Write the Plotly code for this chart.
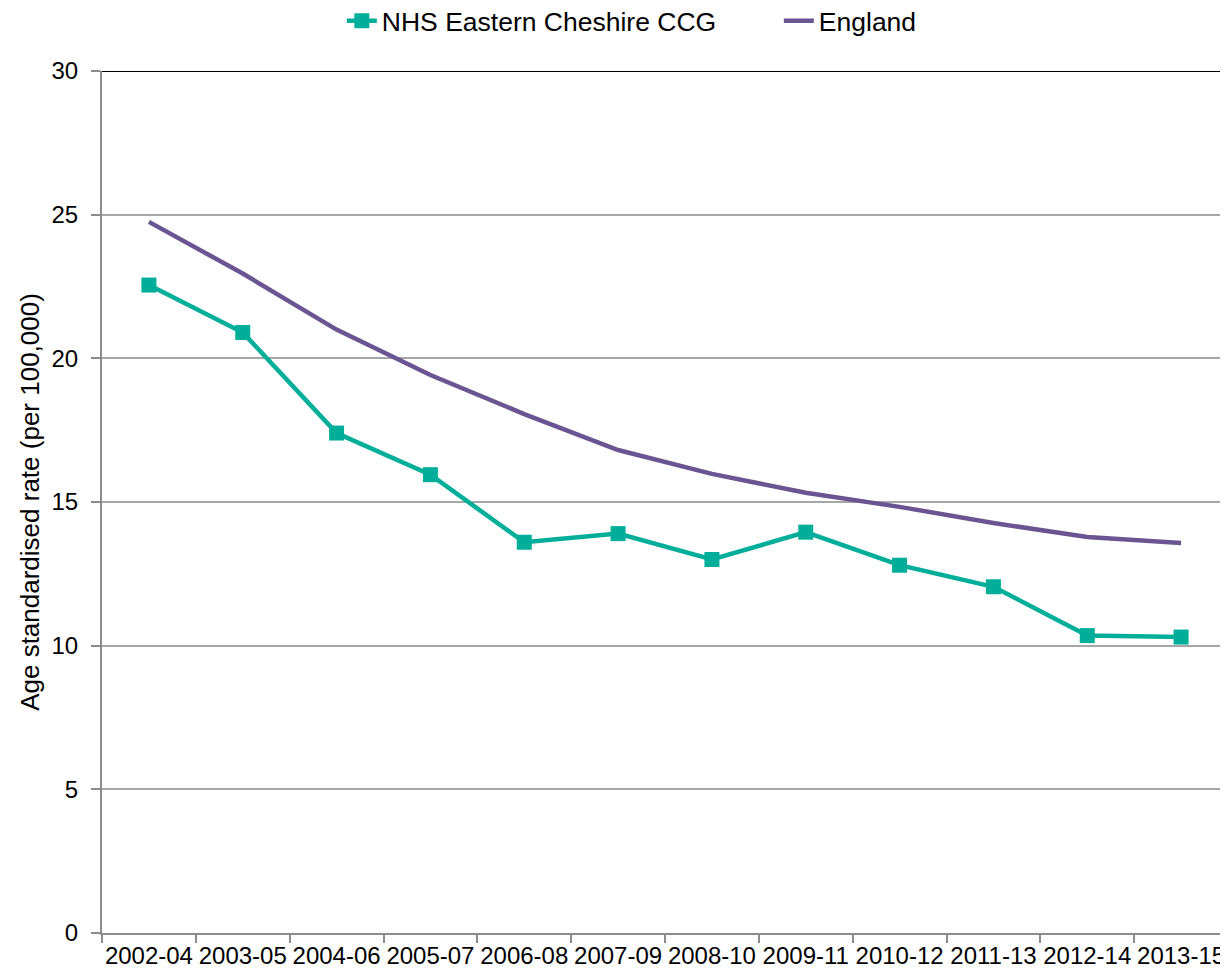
import plotly.graph_objects as go

periods = ["2002-04", "2003-05", "2004-06", "2005-07", "2006-08", "2007-09",
           "2008-10", "2009-11", "2010-12", "2011-13", "2012-14", "2013-15"]
ccg = [22.55, 20.9, 17.4, 15.95, 13.6, 13.9, 13.0, 13.95, 12.8, 12.05, 10.35, 10.3]
england = [24.75, 22.95, 21.0, 19.42, 18.06, 16.81, 15.98, 15.32, 14.83, 14.27, 13.78, 13.57]

teal = "#00AE9A"
purple = "#6A5592"

fig = go.Figure()
fig.add_trace(go.Scatter(
    x=periods, y=ccg, name="NHS Eastern Cheshire CCG",
    mode="lines+markers",
    line=dict(color=teal, width=4.5),
    marker=dict(symbol="square", size=15, color=teal)
))
fig.add_trace(go.Scatter(
    x=periods, y=england, name="England",
    mode="lines",
    line=dict(color=purple, width=4.5)
))

# black line along the top (30)
fig.add_shape(type="line", xref="paper", yref="y", x0=0, x1=1, y0=30, y1=30,
              line=dict(color="black", width=2))

fig.update_layout(
    width=1228, height=976,
    margin=dict(l=94, r=8, t=63, b=51, autoexpand=False),
    plot_bgcolor="white", paper_bgcolor="white",
    font=dict(family="Liberation Sans, Arial, sans-serif", size=24, color="black"),
    legend=dict(orientation="h", x=0.213, xanchor="left", y=1.058, yanchor="middle",
                font=dict(size=26.5), tracegroupgap=0,
                entrywidth=392, entrywidthmode="pixels"),
    showlegend=True,
)
fig.update_xaxes(
    type="category", range=[-0.5, 11.5], tickangle=0, automargin=False,
    showline=True, linecolor="#8C8C8C", linewidth=2,
    ticks="outside", tickson="boundaries", ticklen=8, tickcolor="#8C8C8C", tickwidth=2,
    showgrid=False, tickfont=dict(size=24)
)
fig.update_yaxes(
    range=[0, 30], dtick=5, automargin=False,
    showline=True, linecolor="#8C8C8C", linewidth=2,
    ticks="outside", ticklen=9, tickcolor="#8C8C8C", tickwidth=2,
    ticklabelstandoff=8,
    showgrid=True, gridcolor="#A6A6A6", gridwidth=2,
    zeroline=False,
    title=dict(text="Age standardised rate (per 100,000)", font=dict(size=26), standoff=4),
    tickfont=dict(size=24)
)

fig.write_html("out.html")
